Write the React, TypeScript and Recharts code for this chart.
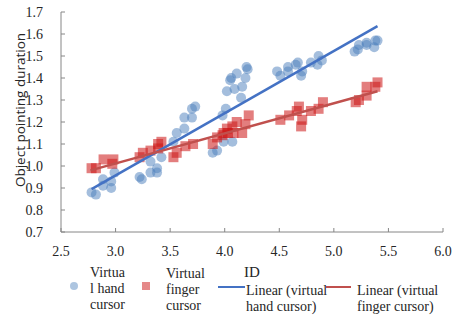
import { ScatterChart, Scatter, XAxis, YAxis } from "recharts";

// ── Data ───────────────────────────────────────────────────────────────────
const handX = [
  2.78, 2.82, 2.885, 2.885, 2.96, 2.96, 2.99,
  3.22, 3.24, 3.32, 3.38, 3.38, 3.32, 3.42,
  3.53, 3.56, 3.63, 3.63, 3.70, 3.70, 3.73,
  3.89, 3.93, 3.99, 4.07, 3.98, 4.01, 4.02, 4.05, 4.06, 4.09, 4.11, 4.16, 4.15, 4.20, 4.21, 4.19,
  4.48, 4.51, 4.58, 4.58, 4.65, 4.67, 4.70, 4.71, 4.79, 4.85, 4.86, 4.89,
  5.19, 5.22, 5.23, 5.30, 5.30, 5.37, 5.38, 5.40,
];
const handY = [
  0.88, 0.87, 0.94, 0.91, 0.93, 0.90, 0.97,
  0.95, 0.94, 0.97, 0.99, 0.97, 1.02, 1.04,
  1.11, 1.15, 1.17, 1.22, 1.22, 1.26, 1.27,
  1.06, 1.07, 1.11, 1.11, 1.23, 1.26, 1.34, 1.39, 1.40, 1.35, 1.42, 1.36, 1.31, 1.45, 1.44, 1.40,
  1.43, 1.41, 1.45, 1.43, 1.46, 1.47, 1.41, 1.43, 1.47, 1.46, 1.50, 1.48,
  1.52, 1.53, 1.55, 1.56, 1.55, 1.54, 1.57, 1.57,
];
const fingerX = [
  2.78, 2.82, 2.89, 2.97, 2.98,
  3.22, 3.25, 3.32, 3.39, 3.39, 3.42,
  3.53, 3.56, 3.64, 3.71,
  3.89, 3.93, 3.98, 3.99, 4.03, 4.02, 4.07, 4.08, 4.11, 4.16, 4.19, 4.22,
  4.51, 4.59, 4.66, 4.68, 4.71, 4.70, 4.79, 4.86, 4.90,
  5.20, 5.23, 5.30, 5.30, 5.38, 5.40,
];
const fingerY = [
  0.99, 0.99, 1.03, 1.01, 1.03,
  1.04, 1.06, 1.07, 1.08, 1.10, 1.11,
  1.04, 1.06, 1.09, 1.10,
  1.10, 1.13, 1.14, 1.15, 1.15, 1.17, 1.18, 1.15, 1.20, 1.15, 1.19, 1.23,
  1.21, 1.23, 1.25, 1.27, 1.21, 1.18, 1.25, 1.26, 1.29,
  1.29, 1.30, 1.32, 1.36, 1.36, 1.38,
];
// trend line end points
const handTrendX = [2.78, 5.40];
const handTrendY = [0.895, 1.636];
const fingerTrendX = [2.77, 5.40];
const fingerTrendY = [0.98, 1.34];

const xTicks = [2.5, 3.0, 3.5, 4.0, 4.5, 5.0, 5.5, 6.0];
const yTicks = [0.7, 0.8, 0.9, 1.0, 1.1, 1.2, 1.3, 1.4, 1.5, 1.6, 1.7];

const zip = (xs: number[], ys: number[]) => xs.map((x, i) => ({ x, y: ys[i] }));
const handData = zip(handX, handY);
const fingerData = zip(fingerX, fingerY);
const handTrend = zip(handTrendX, handTrendY);
const fingerTrend = zip(fingerTrendX, fingerTrendY);

const colorHand = "#4a7ebb";
const colorFinger = "#cc1414";
const colorHandLine = "#4472c4";
const colorFingerLine = "#c0504d";
const axisStroke = "#868686";
const textFill = "#262626";
const serif = "'Liberation Serif', 'Times New Roman', serif";

const W = 458;
const H = 320;

function Dot(p: any) {
  return <circle cx={p.cx} cy={p.cy} r={5} fill={colorHand} fillOpacity={0.5} />;
}
function Sq(p: any) {
  return <rect x={p.cx - 5} y={p.cy - 5} width={10} height={10} fill={colorFinger} fillOpacity={0.55} />;
}
const NoShape = () => <g />;

// tick labels placed like the original (ticks point inward, labels stand off the axis)
function XTick(p: any) {
  return (
    <text x={p.payload.coordinate} y={256} textAnchor="middle" fontFamily={serif} fontSize={14} fill={textFill}>
      {Number(p.payload.value).toFixed(1)}
    </text>
  );
}
function YTick(p: any) {
  return (
    <text x={43} y={p.payload.coordinate + 5} textAnchor="end" fontFamily={serif} fontSize={14} fill={textFill}>
      {Number(p.payload.value).toFixed(1)}
    </text>
  );
}

const legendText = {
  position: "absolute" as const,
  fontFamily: serif,
  fontSize: 14,
  lineHeight: "16px",
  color: textFill,
  whiteSpace: "nowrap" as const,
};

export default function App() {
  return (
    <div style={{ position: "absolute", left: 0, top: 0, width: W, height: H, background: "#fff" }}>
      <ScatterChart width={W} height={H} margin={{ top: 12, right: 15, left: 0, bottom: 58 }}>
        <XAxis
          type="number"
          dataKey="x"
          domain={[2.5, 6]}
          ticks={xTicks}
          interval={0}
          height={30}
          tickSize={-4}
          stroke={axisStroke}
          tick={XTick}
          label={{
            content: (props: any) => {
              const vb = props.viewBox;
              return (
                <text x={vb.x + vb.width / 2} y={277} textAnchor="middle" fontFamily={serif} fontSize={15} fill={textFill}>
                  ID
                </text>
              );
            },
          }}
        />
        <YAxis
          type="number"
          dataKey="y"
          domain={[0.7, 1.7]}
          ticks={yTicks}
          interval={0}
          width={61}
          tickSize={-4}
          stroke={axisStroke}
          tick={YTick}
          label={{
            content: () => (
              <text
                x={20}
                y={110}
                transform="rotate(-90 20 110)"
                textAnchor="middle"
                dominantBaseline="central"
                fontFamily="'Open Sans', sans-serif"
                fontSize={13.5}
                fill={textFill}
              >
                Object pointing duration
              </text>
            ),
          }}
        />
        <Scatter data={handData} shape={Dot} isAnimationActive={false} />
        <Scatter data={fingerData} shape={Sq} isAnimationActive={false} />
        <Scatter data={handTrend} shape={NoShape} line={{ stroke: colorHandLine, strokeWidth: 2.5 }} isAnimationActive={false} />
        <Scatter data={fingerTrend} shape={NoShape} line={{ stroke: colorFingerLine, strokeWidth: 2.5 }} isAnimationActive={false} />
      </ScatterChart>

      {/* ── Legend ── */}
      <div style={{ position: "absolute", left: 70, top: 282, width: 8, height: 8, borderRadius: 4, background: colorHand, opacity: 0.45 }} />
      <div style={{ ...legendText, left: 90, top: 265 }}>Virtua<br />l hand<br />cursor</div>

      <div style={{ position: "absolute", left: 142, top: 282, width: 8, height: 8, background: colorFinger, opacity: 0.5 }} />
      <div style={{ ...legendText, left: 166, top: 266 }}>Virtual<br />finger<br />cursor</div>

      <div style={{ position: "absolute", left: 218, top: 286, width: 27, height: 2, background: colorHandLine }} />
      <div style={{ ...legendText, left: 246, top: 283 }}>Linear (virtual<br />hand cursor)</div>

      <div style={{ position: "absolute", left: 326, top: 286, width: 25, height: 2, background: colorFingerLine }} />
      <div style={{ ...legendText, left: 357, top: 283 }}>Linear (virtual<br />finger cursor)</div>
    </div>
  );
}
